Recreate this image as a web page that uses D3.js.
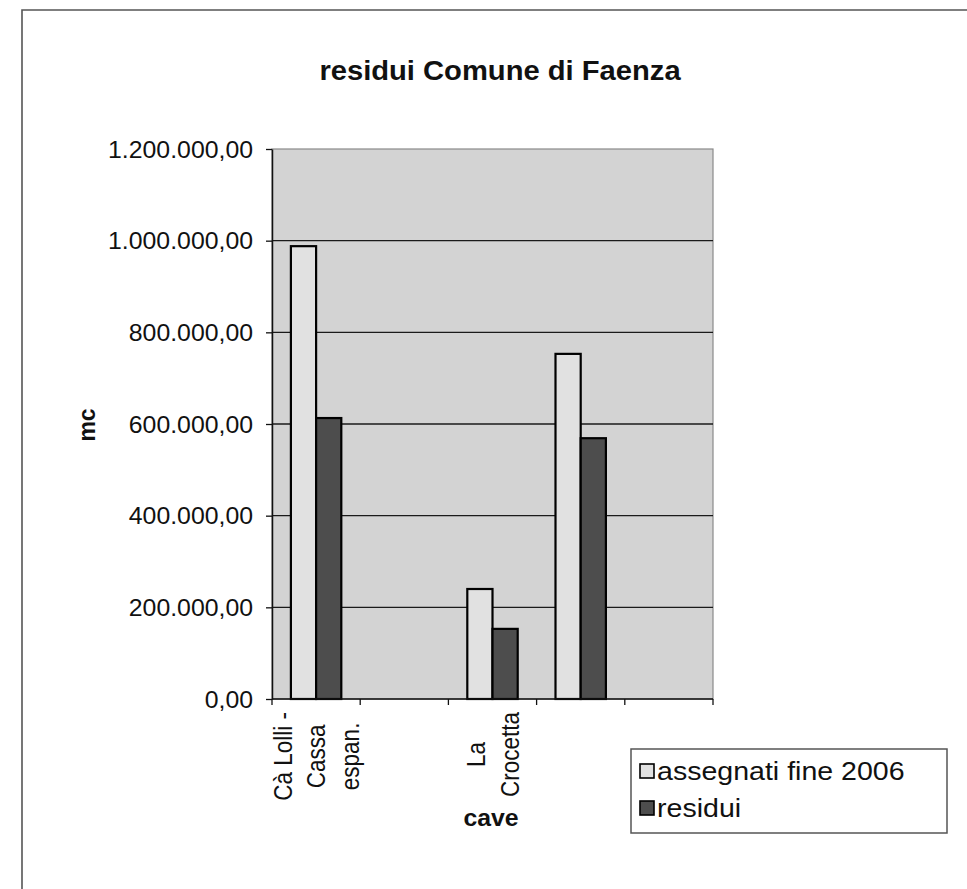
<!DOCTYPE html>
<html>
<head>
<meta charset="utf-8">
<script src="https://cdn.jsdelivr.net/npm/d3@7"></script>
<style>
  html, body { margin: 0; padding: 0; background: #fff; }
  svg { display: block; }
  text { font-family: "Liberation Sans", Arial, sans-serif; fill: #111; }
</style>
</head>
<body>
<svg id="chart" width="967" height="889"></svg>
<script>
// ---- data ----
const title = "residui Comune di Faenza";
const yTitle = "mc";
const xTitle = "cave";
const categories = ["Cà Lolli -\nCassa\nespan.", "", "La\nCrocetta", "", ""];
const seriesNames = ["assegnati fine 2006", "residui"];
const assegnati = [988000, null, 240000, 753000, null];
const residui = [613000, null, 153000, 569000, null];
const yTicks = [0, 200000, 400000, 600000, 800000, 1000000, 1200000];

// ---- layout ----
const SX = 1.08; // horizontal stretch of the scanned text
const plot = { left: 272, right: 713, top: 149, bottom: 699 };
const svg = d3.select("#chart");

const locale = d3.formatLocale({ decimal: ",", thousands: ".", grouping: [3], currency: ["", "€"] });
const fmt = locale.format(",.2f");

const x = d3.scaleBand().domain(d3.range(categories.length)).range([plot.left, plot.right]).paddingInner(0).paddingOuter(0);
const x1 = d3.scaleBand().domain(seriesNames).range([0, x.bandwidth()]).paddingInner(0).paddingOuter(0.75);
const y = d3.scaleLinear().domain([0, 1200000]).range([plot.bottom, plot.top]);
const colors = { "assegnati fine 2006": "#e1e1e1", "residui": "#4d4d4d" };

// outer frame (partially visible)
svg.append("path").attr("d", "M22,889V10H967").attr("fill", "none").attr("stroke", "#555").attr("stroke-width", 1.6);

// title
svg.append("text").attr("transform", `translate(500,80) scale(${SX},1)`)
  .attr("text-anchor", "middle").attr("font-size", 27).attr("font-weight", "bold").text(title);

// plot background
svg.append("rect").attr("x", plot.left).attr("y", plot.top)
  .attr("width", plot.right - plot.left).attr("height", plot.bottom - plot.top)
  .attr("fill", "#d3d3d3").attr("stroke", "#8a8a8a").attr("stroke-width", 1.2);

// gridlines
svg.append("g").selectAll("line").data(yTicks.filter(v => v > 0 && v < 1200000)).join("line")
  .attr("x1", plot.left).attr("x2", plot.right)
  .attr("y1", d => y(d)).attr("y2", d => y(d))
  .attr("stroke", "#1a1a1a").attr("stroke-width", 1.4);

// bars
const data = categories.map((c, i) => ({ i, values: [assegnati[i], residui[i]] }));
const gBars = svg.append("g");
data.forEach(d => {
  seriesNames.forEach((s, k) => {
    const v = d.values[k];
    if (v == null) return;
    gBars.append("rect")
      .attr("x", x(d.i) + x1(s)).attr("y", y(v))
      .attr("width", x1.bandwidth()).attr("height", y(0) - y(v))
      .attr("fill", colors[s]).attr("stroke", "#000").attr("stroke-width", 2.2);
  });
});

// y axis
const yAxis = svg.append("g").attr("transform", `translate(${plot.left},0)`)
  .call(d3.axisLeft(y).tickValues(yTicks).tickFormat(fmt).tickSize(6).tickSizeOuter(0).tickPadding(0));
yAxis.select(".domain").attr("stroke", "#111").attr("stroke-width", 1.5);
yAxis.selectAll(".tick line").attr("stroke", "#111").attr("stroke-width", 1.3);
yAxis.selectAll(".tick text").attr("font-size", 23).attr("font-family", "Liberation Sans, Arial, sans-serif")
  .attr("fill", "#111").attr("x", -19 / SX).attr("dy", "0.35em").attr("transform", `scale(${SX},1)`);

// x axis (ticks at category boundaries)
const xAxisG = svg.append("g");
xAxisG.append("line").attr("x1", plot.left).attr("x2", plot.right).attr("y1", plot.bottom).attr("y2", plot.bottom)
  .attr("stroke", "#111").attr("stroke-width", 1.5);
const bounds = d3.range(categories.length + 1).map(i => i < categories.length ? x(i) : plot.right);
xAxisG.selectAll("line.tk").data(bounds).join("line").attr("class", "tk")
  .attr("x1", d => d).attr("x2", d => d).attr("y1", plot.bottom).attr("y2", plot.bottom + 6)
  .attr("stroke", "#111").attr("stroke-width", 1.3);

// category labels, rotated, multi-line: block top-aligned under axis, lines centred on each other
const lineGap = 33.5;
const labelTop = 712;
data.forEach(d => {
  const lines = categories[d.i] ? categories[d.i].split("\n") : [];
  if (!lines.length) return;
  const cx = x(d.i) + x.bandwidth() / 2;
  const texts = lines.map((ln, j) => {
    const lx = cx + (j - (lines.length - 1) / 2) * lineGap;
    return svg.append("text").attr("data-x", lx)
      .attr("text-anchor", "middle").attr("dy", "0.36em").attr("font-size", 22.5).text(ln);
  });
  const maxLen = d3.max(texts, t => t.node().getComputedTextLength());
  const cy = labelTop + maxLen / 2;
  texts.forEach(t => t.attr("transform", `translate(${t.attr("data-x")},${cy}) scale(1.15,1) rotate(-90)`));
});

// axis titles
svg.append("text").attr("transform", `translate(95,425) scale(${SX},1) rotate(-90)`)
  .attr("text-anchor", "middle").attr("font-size", 23).attr("font-weight", "bold").text(yTitle);
svg.append("text").attr("transform", `translate(491,826) scale(${SX},1)`)
  .attr("text-anchor", "middle").attr("font-size", 23).attr("font-weight", "bold").text(xTitle);

// legend
const lg = svg.append("g");
lg.append("rect").attr("x", 631).attr("y", 749).attr("width", 316).attr("height", 84)
  .attr("fill", "#fff").attr("stroke", "#555").attr("stroke-width", 1.5);
seriesNames.forEach((s, k) => {
  const cy = 771 + k * 37;
  lg.append("rect").attr("x", 640).attr("y", cy - 7).attr("width", 14).attr("height", 14)
    .attr("fill", colors[s]).attr("stroke", "#000").attr("stroke-width", 1.6);
  lg.append("text").attr("transform", `translate(657,${cy}) scale(1.12,1)`)
    .attr("dy", "0.35em").attr("font-size", 25.5).text(s);
});
</script>
</body>
</html>
